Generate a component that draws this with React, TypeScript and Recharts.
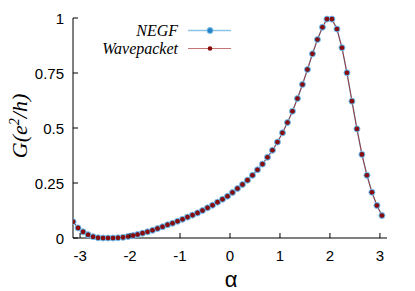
import { LineChart, Line, XAxis, YAxis } from "recharts";

// alpha grid (63 points over one period)
const alpha = [
  -3.14, -3.04, -2.94, -2.84, -2.74, -2.64, -2.54, -2.44, -2.34, -2.24,
  -2.14, -2.04, -1.94, -1.85, -1.75, -1.65, -1.55, -1.45, -1.35, -1.25,
  -1.15, -1.05, -0.95, -0.85, -0.75, -0.65, -0.55, -0.45, -0.35, -0.25,
  -0.15, -0.05, 0.05, 0.15, 0.25, 0.35, 0.45, 0.55, 0.65, 0.75,
  0.85, 0.95, 1.05, 1.15, 1.25, 1.35, 1.45, 1.55, 1.65, 1.75,
  1.85, 1.94, 2.04, 2.14, 2.24, 2.34, 2.44, 2.54, 2.64, 2.74,
  2.84, 2.94, 3.04,
];

const negf = [
  0.074, 0.046, 0.028, 0.015, 0.006, 0.001, 0.0, 0.0, 0.0, 0.001,
  0.003, 0.007, 0.011, 0.016, 0.022, 0.028, 0.035, 0.043, 0.051, 0.06,
  0.067, 0.076, 0.085, 0.095, 0.104, 0.114, 0.125, 0.137, 0.149, 0.163,
  0.176, 0.19, 0.207, 0.225, 0.243, 0.263, 0.285, 0.31, 0.336, 0.367,
  0.399, 0.436, 0.478, 0.525, 0.576, 0.634, 0.698, 0.766, 0.837, 0.902,
  0.958, 0.995, 0.995, 0.95, 0.865, 0.751, 0.622, 0.496, 0.38, 0.285,
  0.208, 0.148, 0.102,
];

const wavepacket = [
  0.074, 0.046, 0.028, 0.015, 0.006, 0.001, 0.0, 0.0, 0.0, 0.001,
  0.003, 0.007, 0.011, 0.016, 0.022, 0.028, 0.035, 0.043, 0.051, 0.06,
  0.067, 0.076, 0.085, 0.095, 0.104, 0.114, 0.125, 0.137, 0.149, 0.163,
  0.176, 0.19, 0.207, 0.225, 0.243, 0.263, 0.285, 0.31, 0.336, 0.367,
  0.399, 0.436, 0.478, 0.525, 0.576, 0.634, 0.698, 0.766, 0.837, 0.902,
  0.958, 0.995, 0.995, 0.95, 0.865, 0.751, 0.622, 0.496, 0.38, 0.285,
  0.208, 0.148, 0.102,
];

const xTicks = [-3, -2, -1, 0, 1, 2, 3];
const yTicks = [0, 0.25, 0.5, 0.75, 1];

const data = alpha.map((a, i) => ({ a, negf: negf[i], wave: wavepacket[i] }));

const SANS = "'Liberation Sans', Arial, sans-serif";
const SERIF = "'Liberation Serif', 'Times New Roman', serif";

const BottomTick = ({ x, y, payload }: any) => (
  <g>
    <line x1={x} y1={y} x2={x} y2={y - 5} stroke="#000" />
    <text x={x} y={y + 23} textAnchor="middle" fontSize={15} fontFamily={SANS} fill="#000">
      {String(payload.value)}
    </text>
  </g>
);

const TopTick = ({ x, y }: any) => <line x1={x} y1={y} x2={x} y2={y + 5} stroke="#000" />;

const LeftTick = ({ x, y, payload }: any) => (
  <g>
    <line x1={x} y1={y} x2={x + 5} y2={y} stroke="#000" />
    <text x={x - 9} y={y + 5.5} textAnchor="end" fontSize={15} fontFamily={SANS} fill="#000">
      {String(payload.value)}
    </text>
  </g>
);

const RightTick = ({ x, y }: any) => <line x1={x} y1={y} x2={x - 5} y2={y} stroke="#8c8c8c" />;

const App = () => {
  return (
    <div style={{ position: "absolute", left: 0, top: 0, width: 415, height: 291 }}>
      <LineChart width={415} height={291} data={data} margin={{ top: 18, right: 28, bottom: 23, left: 0 }}>
        <XAxis
          xAxisId="b"
          dataKey="a"
          type="number"
          domain={[-Math.PI, Math.PI]}
          allowDataOverflow
          ticks={xTicks}
          height={30}
          tickSize={0}
          tickMargin={0}
          tickLine={false}
          tick={<BottomTick />}
          axisLine={{ stroke: "#000" }}
        />
        <XAxis
          xAxisId="t"
          orientation="top"
          dataKey="a"
          type="number"
          domain={[-Math.PI, Math.PI]}
          allowDataOverflow
          ticks={xTicks}
          height={0}
          tickSize={0}
          tickMargin={0}
          tickLine={false}
          tick={<TopTick />}
          axisLine={{ stroke: "#000" }}
        />
        <YAxis
          yAxisId="l"
          domain={[0, 1]}
          ticks={yTicks}
          width={73}
          tickSize={0}
          tickMargin={0}
          tickLine={false}
          tick={<LeftTick />}
          axisLine={{ stroke: "#000" }}
        />
        <YAxis
          yAxisId="r"
          orientation="right"
          domain={[0, 1]}
          ticks={yTicks}
          width={0}
          tickSize={0}
          tickMargin={0}
          tickLine={false}
          tick={<RightTick />}
          axisLine={{ stroke: "#8c8c8c", strokeWidth: 2 }}
        />
        <Line
          xAxisId="b"
          yAxisId="l"
          dataKey="negf"
          type="linear"
          stroke="#8cc4e8"
          strokeWidth={1.5}
          dot={{ r: 3, fill: "#2584c9", stroke: "#7fbbe6", strokeWidth: 1 }}
          isAnimationActive={false}
        />
        <Line
          xAxisId="t"
          yAxisId="r"
          dataKey="wave"
          type="linear"
          stroke="#9a3434"
          strokeWidth={1}
          dot={{ r: 2.3, fill: "#8a0c0c", stroke: "none" }}
          isAnimationActive={false}
        />
      </LineChart>
      <svg
        width={415}
        height={291}
        style={{ position: "absolute", left: 0, top: 0, pointerEvents: "none" }}
      >
        <text
          transform="translate(27,126) rotate(-90)"
          textAnchor="middle"
          fontSize={22}
          fontStyle="italic"
          fontFamily={SERIF}
          fill="#000"
        >
          G(e
          <tspan dy={-8} fontSize={14}>2</tspan>
          <tspan dy={8}>/h)</tspan>
        </text>
        <text x={231} y={287} textAnchor="middle" fontSize={22} fontFamily={SANS} fill="#000">
          α
        </text>
        <text x={178} y={35.5} textAnchor="end" fontSize={16} fontStyle="italic" fontFamily={SERIF} fill="#000">
          NEGF
        </text>
        <line x1={188} y1={30.5} x2={231} y2={30.5} stroke="#8cc4e8" strokeWidth={1.5} />
        <circle cx={210} cy={30.5} r={3} fill="#2584c9" stroke="#7fbbe6" strokeWidth={1} />
        <text x={178} y={54} textAnchor="end" fontSize={16} fontStyle="italic" fontFamily={SERIF} fill="#000">
          Wavepacket
        </text>
        <line x1={188} y1={48.5} x2={231} y2={48.5} stroke="#c47575" strokeWidth={1.2} />
        <circle cx={210} cy={48.5} r={2.3} fill="#8a0c0c" />
      </svg>
    </div>
  );
};

export default App;
